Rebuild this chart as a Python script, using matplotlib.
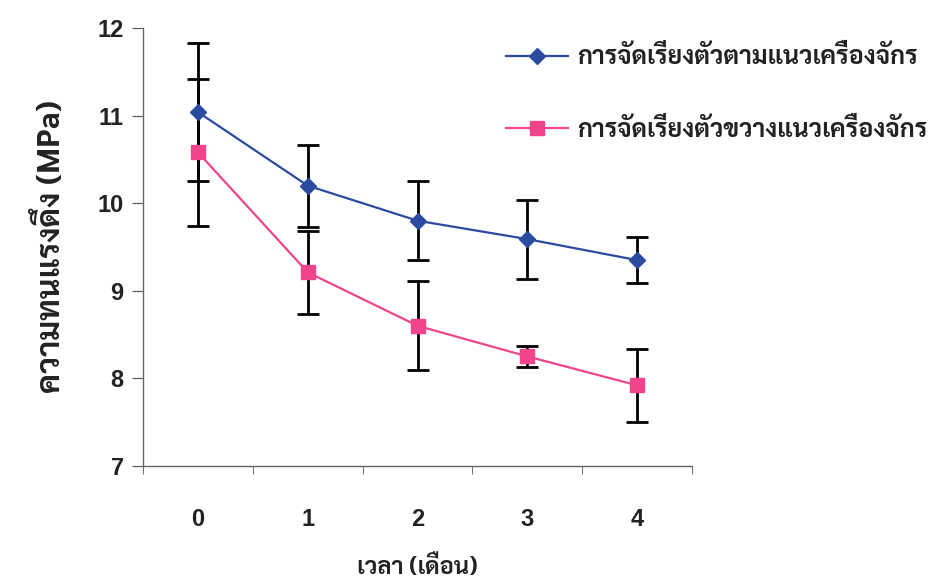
import matplotlib
matplotlib.use("Agg")
import matplotlib.pyplot as plt

months = [0, 1, 2, 3, 4]
tick_labels = ["0", "1", "2", "3", "4"]
along_mean = [11.04, 10.20, 9.80, 9.59, 9.35]
along_err = [0.79, 0.47, 0.45, 0.45, 0.26]
across_mean = [10.58, 9.21, 8.60, 8.25, 7.92]
across_err = [0.84, 0.47, 0.51, 0.12, 0.42]
series_names = ["การจัดเรียงตัวตามแนวเครื่องจักร", "การจัดเรียงตัวขวางแนวเครื่องจักร"]
x_title = "เวลา (เดือน)"
y_title = "ความทนแรงดึง (MPa)"

thai_family = ["Sarabun", "Noto Sans Thai Looped", "DejaVu Sans"]

fig = plt.figure(figsize=(9.48, 5.86), dpi=100)
ax = fig.add_axes([0.151, 0.205, 0.579, 0.747])

ax.plot(months, along_mean, color="#2B4BA0", lw=1.6, marker="D", ms=8,
        label=series_names[0], zorder=3)
ax.plot(months, across_mean, color="#F0458C", lw=1.6, marker="s", ms=10,
        label=series_names[1], zorder=3)
ax.errorbar(months, along_mean, yerr=along_err, fmt="none", ecolor="black",
            elinewidth=2, capsize=8, capthick=2, zorder=2)
ax.errorbar(months, across_mean, yerr=across_err, fmt="none", ecolor="black",
            elinewidth=2, capsize=8, capthick=2, zorder=2)

ax.set_xlim(-0.5, 4.5)
ax.set_ylim(7, 12)
ax.set_yticks([7, 8, 9, 10, 11, 12])
ax.set_xticks(months)
ax.set_xticklabels(tick_labels)
ax.set_xticks([-0.5, 0.5, 1.5, 2.5, 3.5, 4.5], minor=True)
ax.tick_params(axis="x", which="major", length=0, pad=30, labelsize=17)
ax.tick_params(axis="x", which="minor", length=6, color="#555555", direction="out")
ax.tick_params(axis="y", length=8, color="#555555", labelsize=17, pad=6)
for lab in ax.get_xticklabels() + ax.get_yticklabels():
    lab.set_family("Liberation Sans")
    lab.set_fontweight("bold")
    lab.set_color("#222222")

for s in ["top", "right"]:
    ax.spines[s].set_visible(False)
for s in ["left", "bottom"]:
    ax.spines[s].set_color("#666666")
    ax.spines[s].set_linewidth(1)

ax.set_xlabel(x_title, family=thai_family, fontsize=17, fontweight="bold",
              labelpad=18, color="#222222")
ax.set_ylabel(y_title, family=thai_family, fontsize=23, fontweight="bold",
              labelpad=22, color="#222222")

ax.legend(loc="upper left", bbox_to_anchor=(0.62, 1.01), frameon=False,
          prop={"family": thai_family, "size": 18, "weight": "bold"},
          handlelength=2.5, labelspacing=1.95, handletextpad=0.35,
          labelcolor="#222222")

fig.savefig("out.png", dpi=100)
